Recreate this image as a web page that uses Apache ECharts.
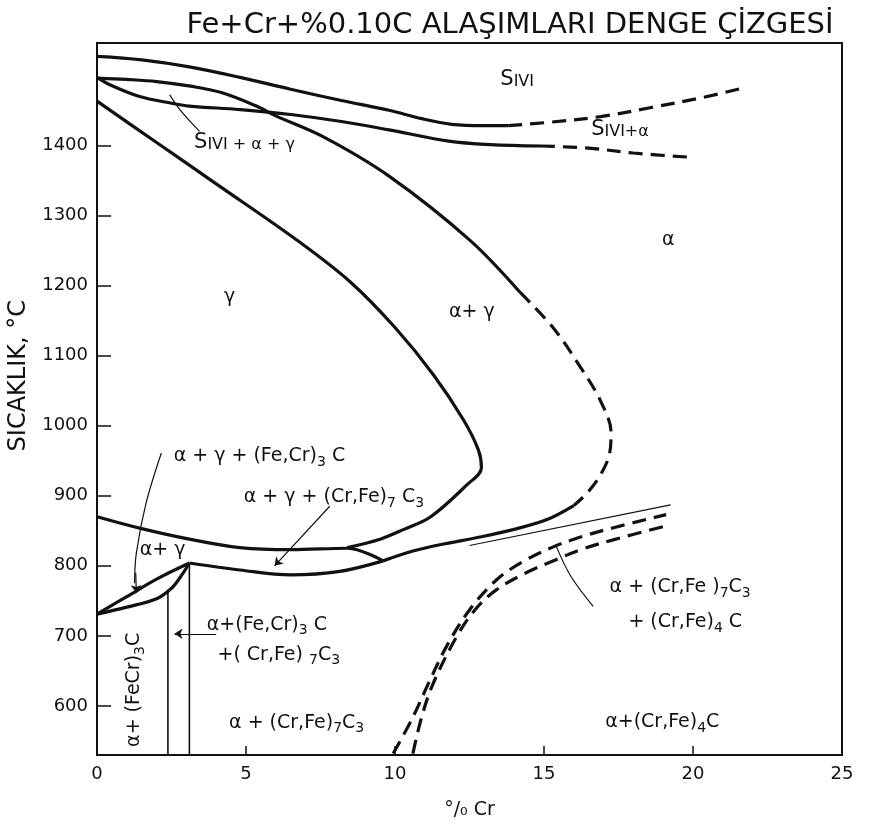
<!DOCTYPE html>
<html>
<head>
<meta charset="utf-8">
<script src="https://cdn.jsdelivr.net/npm/echarts@6/dist/echarts.min.js"></script>
<style>
  html, body { margin: 0; padding: 0; background: #fff; }
  #chart { width: 871px; height: 827px; }
</style>
</head>
<body>
<div id="chart"></div>
<script>
// Fe–Cr–0.10 %C equilibrium diagram: phase boundaries as [%Cr, °C] pairs
const yTicks = [600, 700, 800, 900, 1000, 1100, 1200, 1300, 1400];

const liquidusSolid = [[0,1527],[1.5,1522],[3.1,1512],[4.8,1497],[6.5,1480],[8.2,1464],[9.8,1450],[10.9,1438],[11.9,1430],[13,1428],[13.8,1428]];
const liquidusDashed = [[13.8,1428],[15.2,1433],[16.9,1441],[18.6,1454],[20.3,1468],[21.7,1482]];

const solidusSolid = [[0,1497],[0.45,1486],[1.4,1470],[2.5,1460],[3.1,1456],[4.8,1451],[6.5,1444],[8.2,1434],[9.8,1422],[11.8,1406],[13.2,1401],[14.9,1399]];
const solidusDashed = [[14.9,1399],[16.5,1396],[18.0,1389],[19.9,1383]];

const outerUpperSolid = [[0,1496],[1,1494],[2,1491],[3.2,1484],[4.2,1475],[5.35,1456],[6.0,1442],[7.6,1412],[9.8,1356],[12.5,1265],[14.2,1190]];
const outerDashed = [[14.2,1190],[15.3,1140],[16.2,1085],[16.9,1035],[17.25,990],[17.2,960],[16.9,930],[16.45,904],[16.0,886]];
const outerLowerSolid = [[16.0,886],[15.1,866],[14.0,852],[12.85,841],[11.5,830],[10.6,821],[9.6,807]];

const gammaBoundary = [[0,1463],[2,1404],[4,1345],[6.7,1265],[8.5,1205],[10,1140],[11.3,1072],[12.3,1008],[12.8,965],[12.9,940],[12.4,915],[11.2,870],[10.3,852],[9.5,838],[8.4,826]];

const eutectoidLine = [[0,870],[1.5,853],[3.1,838],[4.8,826],[6.5,823],[8.4,825],[9.6,807]];
const carbideLensLower = [[9.6,807],[8.15,792],[6.5,787],[4.8,794],[3.1,804]];

const smallLensUpper = [[0,731],[1,756],[2,781],[3.1,804]];
const smallLensLower = [[0,731],[1,741],[2,753],[2.5,768],[2.8,784],[3.1,804]];

const verticalA = [[2.38,765],[2.38,530]];
const verticalB = [[3.1,804],[3.1,530]];

const thinLine = [[12.5,829],[19.25,887]];
const carbideDashedUpper = [[9.94,532],[10.6,584],[11.1,630],[11.73,685],[12.5,737],[13.41,780],[14.3,806],[15.31,827],[16.3,842],[17.3,854],[19.1,873]];
const carbideDashedLower = [[10.6,532],[10.9,585],[11.28,632],[12.07,699],[12.7,738],[13.41,766],[14.4,790],[15.42,809],[16.3,824],[17.32,837],[19.1,857]];

// leader lines for labels
const leaderLiquidAG = [[3.44,1420],[2.8,1450],[2.44,1472]];
const leaderAGFe3C = [[2.16,961],[1.65,890],[1.32,818],[1.26,775]];
const leaderRight = [[16.65,742],[15.9,785],[15.42,827]];

// region labels: [%Cr, °C, text]
const regionLabels = [
  [14.1, 1494, '{b|S}{s|IVI}'],
  [17.55, 1423, '{b|S}{s|IVI+α}'],
  [4.95, 1404, '{b|S}{s|IVI + α + γ}'],
  [19.17, 1265, 'α'],
  [4.45, 1184, 'γ'],
  [12.58, 1162, 'α+ γ'],
  [5.45, 956, 'α + γ + (Fe,Cr){sub|3} C'],
  [7.95, 898, 'α + γ + (Cr,Fe){sub|7} C{sub|3}'],
  [2.2, 822, 'α+ γ'],
  [5.7, 716, 'α+(Fe,Cr){sub|3} C'],
  [6.1, 673, '+( Cr,Fe) {sub|7}C{sub|3}'],
  [6.7, 576, 'α + (Cr,Fe){sub|7}C{sub|3}'],
  [19.57, 769, 'α + (Cr,Fe ){sub|7}C{sub|3}'],
  [19.74, 719, '+ (Cr,Fe){sub|4} C'],
  [18.97, 577, 'α+(Cr,Fe){sub|4}C']
];
const verticalLabel = [[1.26, 623, 'α+ (FeCr){sub|3}C']];

const INK = '#111111';
const FONT = '"DejaVu Sans", "Noto Sans", sans-serif';
const RICH = {
  b: { fontFamily: FONT, fontSize: 21, color: INK },
  s: { fontFamily: FONT, fontSize: 16, color: INK, verticalAlign: 'bottom' },
  sub: { fontFamily: FONT, fontSize: 14, color: INK, verticalAlign: 'bottom', padding: [12, 0, 0, 0] }
};

function solid(data, w) {
  return { type: 'line', data: data, showSymbol: false, symbol: 'none', smooth: 0.35,
    lineStyle: { color: INK, width: w || 3.2 }, z: 3, silent: true };
}
function dashed(data, w) {
  return { type: 'line', data: data, showSymbol: false, symbol: 'none', smooth: 0.35,
    lineStyle: { color: INK, width: w || 3.2, type: [14, 8] }, z: 3, silent: true };
}
function arrow(from, to) {
  return { type: 'line', data: [], markLine: { silent: true, symbol: ['none', 'arrow'], symbolSize: 8,
    label: { show: false }, lineStyle: { color: INK, width: 1.2, type: 'solid' },
    data: [[{ coord: from }, { coord: to }]] } };
}
function labels(data, rotate) {
  return {
    type: 'scatter', data: data, symbolSize: 0, silent: true, z: 5,
    itemStyle: { opacity: 1 },
    label: { show: true, position: 'inside', rotate: rotate || 0, color: INK, opacity: 1,
      fontFamily: FONT, fontSize: 19, formatter: p => p.data[2], rich: RICH }
  };
}

const chart = echarts.init(document.getElementById('chart'), null, { renderer: 'canvas' });
chart.setOption({
  backgroundColor: '#ffffff',
  animation: false,
  title: {
    text: 'Fe+Cr+%0.10C ALAŞIMLARI DENGE ÇİZGESİ',
    left: 505, top: 6, textAlign: 'center',
    textStyle: { fontFamily: FONT, fontSize: 29, fontWeight: 'normal', color: INK }
  },
  graphic: [{
    type: 'text', left: 7, top: 300, rotation: Math.PI / 2,
    style: { text: 'SICAKLIK, °C', fontFamily: FONT, fontSize: 24, fill: INK }
  }],
  grid: { left: 97, right: 29, top: 43, bottom: 72, show: true, borderColor: INK, borderWidth: 2, backgroundColor: 'transparent' },
  xAxis: {
    type: 'value', min: 0, max: 25, interval: 5,
    name: '°/₀ Cr', nameLocation: 'middle', nameGap: 46,
    nameTextStyle: { fontFamily: FONT, fontSize: 19, color: INK },
    axisLine: { lineStyle: { color: INK, width: 2 } },
    axisTick: { inside: true, length: 9, lineStyle: { color: INK, width: 1.5 } },
    axisLabel: { fontFamily: FONT, fontSize: 18, color: INK, margin: 10 },
    splitLine: { show: false }
  },
  yAxis: {
    type: 'value', min: 530, max: 1546,
    axisLine: { lineStyle: { color: INK, width: 2 } },
    axisTick: { inside: true, length: 14, lineStyle: { color: INK, width: 1.5 }, customValues: yTicks },
    axisLabel: { fontFamily: FONT, fontSize: 18, color: INK, margin: 9, customValues: yTicks, formatter: v => String(v) },
    splitLine: { show: false }
  },
  series: [
    solid(liquidusSolid), dashed(liquidusDashed),
    solid(solidusSolid), dashed(solidusDashed),
    solid(outerUpperSolid), dashed(outerDashed), solid(outerLowerSolid),
    solid(gammaBoundary),
    solid(eutectoidLine), solid(carbideLensLower),
    solid(smallLensUpper), solid(smallLensLower),
    solid(verticalA, 1.6), solid(verticalB, 1.6),
    solid(thinLine, 1.2),
    dashed(carbideDashedUpper), dashed(carbideDashedLower),
    solid(leaderLiquidAG, 1.2), solid(leaderAGFe3C, 1.2), solid(leaderRight, 1.2),
    arrow([1.3, 790], [1.32, 761]),
    arrow([7.81, 885], [5.96, 800]),
    arrow([4.0, 703], [2.6, 703]),
    labels(regionLabels, 0),
    labels(verticalLabel, 90)
  ]
});
</script>
</body>
</html>
